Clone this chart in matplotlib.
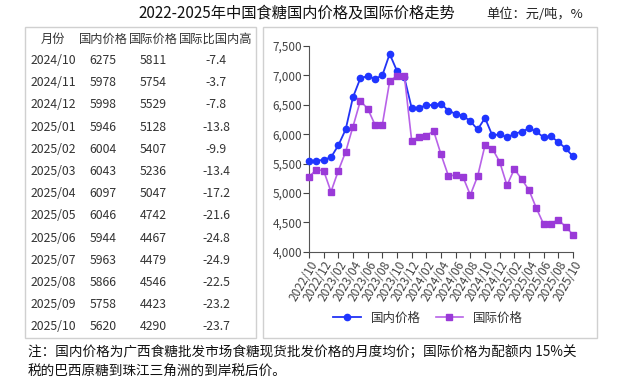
import matplotlib.pyplot as plt
from matplotlib.patches import Rectangle
from matplotlib.ticker import FuncFormatter

plt.rcParams['font.family'] = ['Noto Sans CJK SC', 'DejaVu Sans']

# monthly series 2022/10 - 2025/10
months = []
y, m = 2022, 10
for i in range(37):
    months.append(f"{y}/{m:02d}")
    m += 1
    if m > 12:
        m = 1
        y += 1

domestic = [5550, 5545, 5565, 5605, 5810, 6080, 6630, 6950, 6990, 6940, 7000, 7365,
            7075, 6965, 6445, 6445, 6495, 6495, 6520, 6400, 6345, 6315, 6220, 6080,
            6275, 5978, 5998, 5946, 6004, 6043, 6097, 6046, 5944, 5963, 5866, 5758, 5620]
intl = [5275, 5395, 5378, 5020, 5378, 5700, 6130, 6565, 6435, 6160, 6160, 6900,
        6995, 6995, 5890, 5957, 5975, 6053, 5656, 5293, 5300, 5270, 4965, 5287,
        5811, 5754, 5529, 5128, 5407, 5236, 5047, 4742, 4467, 4479, 4546, 4423, 4290]

# table
tbl_header = ["月份", "国内价格", "国际价格", "国际比国内高"]
tbl_month = months[24:]
tbl_dom = domestic[24:]
tbl_int = intl[24:]
tbl_diff = ["-7.4", "-3.7", "-7.8", "-13.8", "-9.9", "-13.4", "-17.2",
            "-21.6", "-24.8", "-24.9", "-22.5", "-23.2", "-23.7"]

W, H = 619, 387
fig = plt.figure(figsize=(W / 100, H / 100), dpi=100)

def fx(px):
    return px / W

def fy(py):
    return 1 - py / H

# panel boxes
for x0, x1 in [(25, 256), (263, 597)]:
    fig.patches.append(Rectangle((fx(x0), fy(338)), fx(x1 - x0), (338 - 27) / H,
                                 transform=fig.transFigure, fill=False,
                                 edgecolor='#d0d0d0', lw=1))

# title
fig.text(fx(297), fy(13), "2022-2025年中国食糖国内价格及国际价格走势", ha='center', va='center',
         fontsize=11, color='#111111')
fig.text(fx(535), fy(14), "单位：元/吨，%", ha='center', va='center', fontsize=9.5, color='#222222')

# table text
col_x = [53, 103, 153, 216]
fs = 8.8
tc = '#333333'
for j, h in enumerate(tbl_header):
    fig.text(fx(col_x[j]), fy(39), h, ha='center', va='center', fontsize=fs, color=tc)
for i in range(len(tbl_month)):
    yy = fy(60.5 + i * 22.2)
    fig.text(fx(col_x[0]), yy, tbl_month[i], ha='center', va='center', fontsize=fs, color=tc)
    fig.text(fx(col_x[1]), yy, str(tbl_dom[i]), ha='center', va='center', fontsize=fs, color=tc)
    fig.text(fx(col_x[2]), yy, str(tbl_int[i]), ha='center', va='center', fontsize=fs, color=tc)
    fig.text(fx(col_x[3]), yy, tbl_diff[i], ha='center', va='center', fontsize=fs, color=tc)

# chart
ax = fig.add_axes([fx(309), fy(251.7), fx(573 - 309), (251.7 - 46) / H])
x = list(range(len(months)))
l1, = ax.plot(x, domestic, color='#2233f5', lw=1.3, marker='o', markersize=4.5,
              markerfacecolor='#1f35ff', markeredgecolor='#1f35ff', label='国内价格',
              clip_on=False, zorder=3)
l2, = ax.plot(x, intl, color='#b862e8', lw=1.2, marker='s', markersize=4.2,
              markerfacecolor='#9a3ad8', markeredgecolor='#9a3ad8', label='国际价格',
              clip_on=False, zorder=3)
ax.set_xlim(0, 36)
ax.set_ylim(4000, 7500)
ax.set_yticks(range(4000, 7501, 500))
ax.yaxis.set_major_formatter(FuncFormatter(lambda v, p: f"{int(v):,}"))
ax.set_xticks(x[::2])
ax.set_xticklabels(months[::2], rotation=60, ha='right', rotation_mode='anchor')
for s in ['top', 'right']:
    ax.spines[s].set_visible(False)
for s in ['left', 'bottom']:
    ax.spines[s].set_color('#555555')
ax.tick_params(axis='y', labelsize=8.5, colors='#444444', length=4, pad=1)
ax.tick_params(axis='x', labelsize=8.5, colors='#444444', length=4, pad=1)
ax.patch.set_visible(False)

fig.legend(handles=[l1, l2], loc='center', bbox_to_anchor=(fx(428), fy(318)), ncol=2,
           frameon=False, fontsize=9, handlelength=2.2, columnspacing=1.2,
           labelcolor='#333333')

# footnote
fig.text(fx(28), fy(352), "注：国内价格为广西食糖批发市场食糖现货批发价格的月度均价；国际价格为配额内 15%关",
         ha='left', va='center', fontsize=9.8, color='#111111')
fig.text(fx(28), fy(372), "税的巴西原糖到珠江三角洲的到岸税后价。",
         ha='left', va='center', fontsize=9.8, color='#111111')

fig.savefig('out.png', dpi=100)
